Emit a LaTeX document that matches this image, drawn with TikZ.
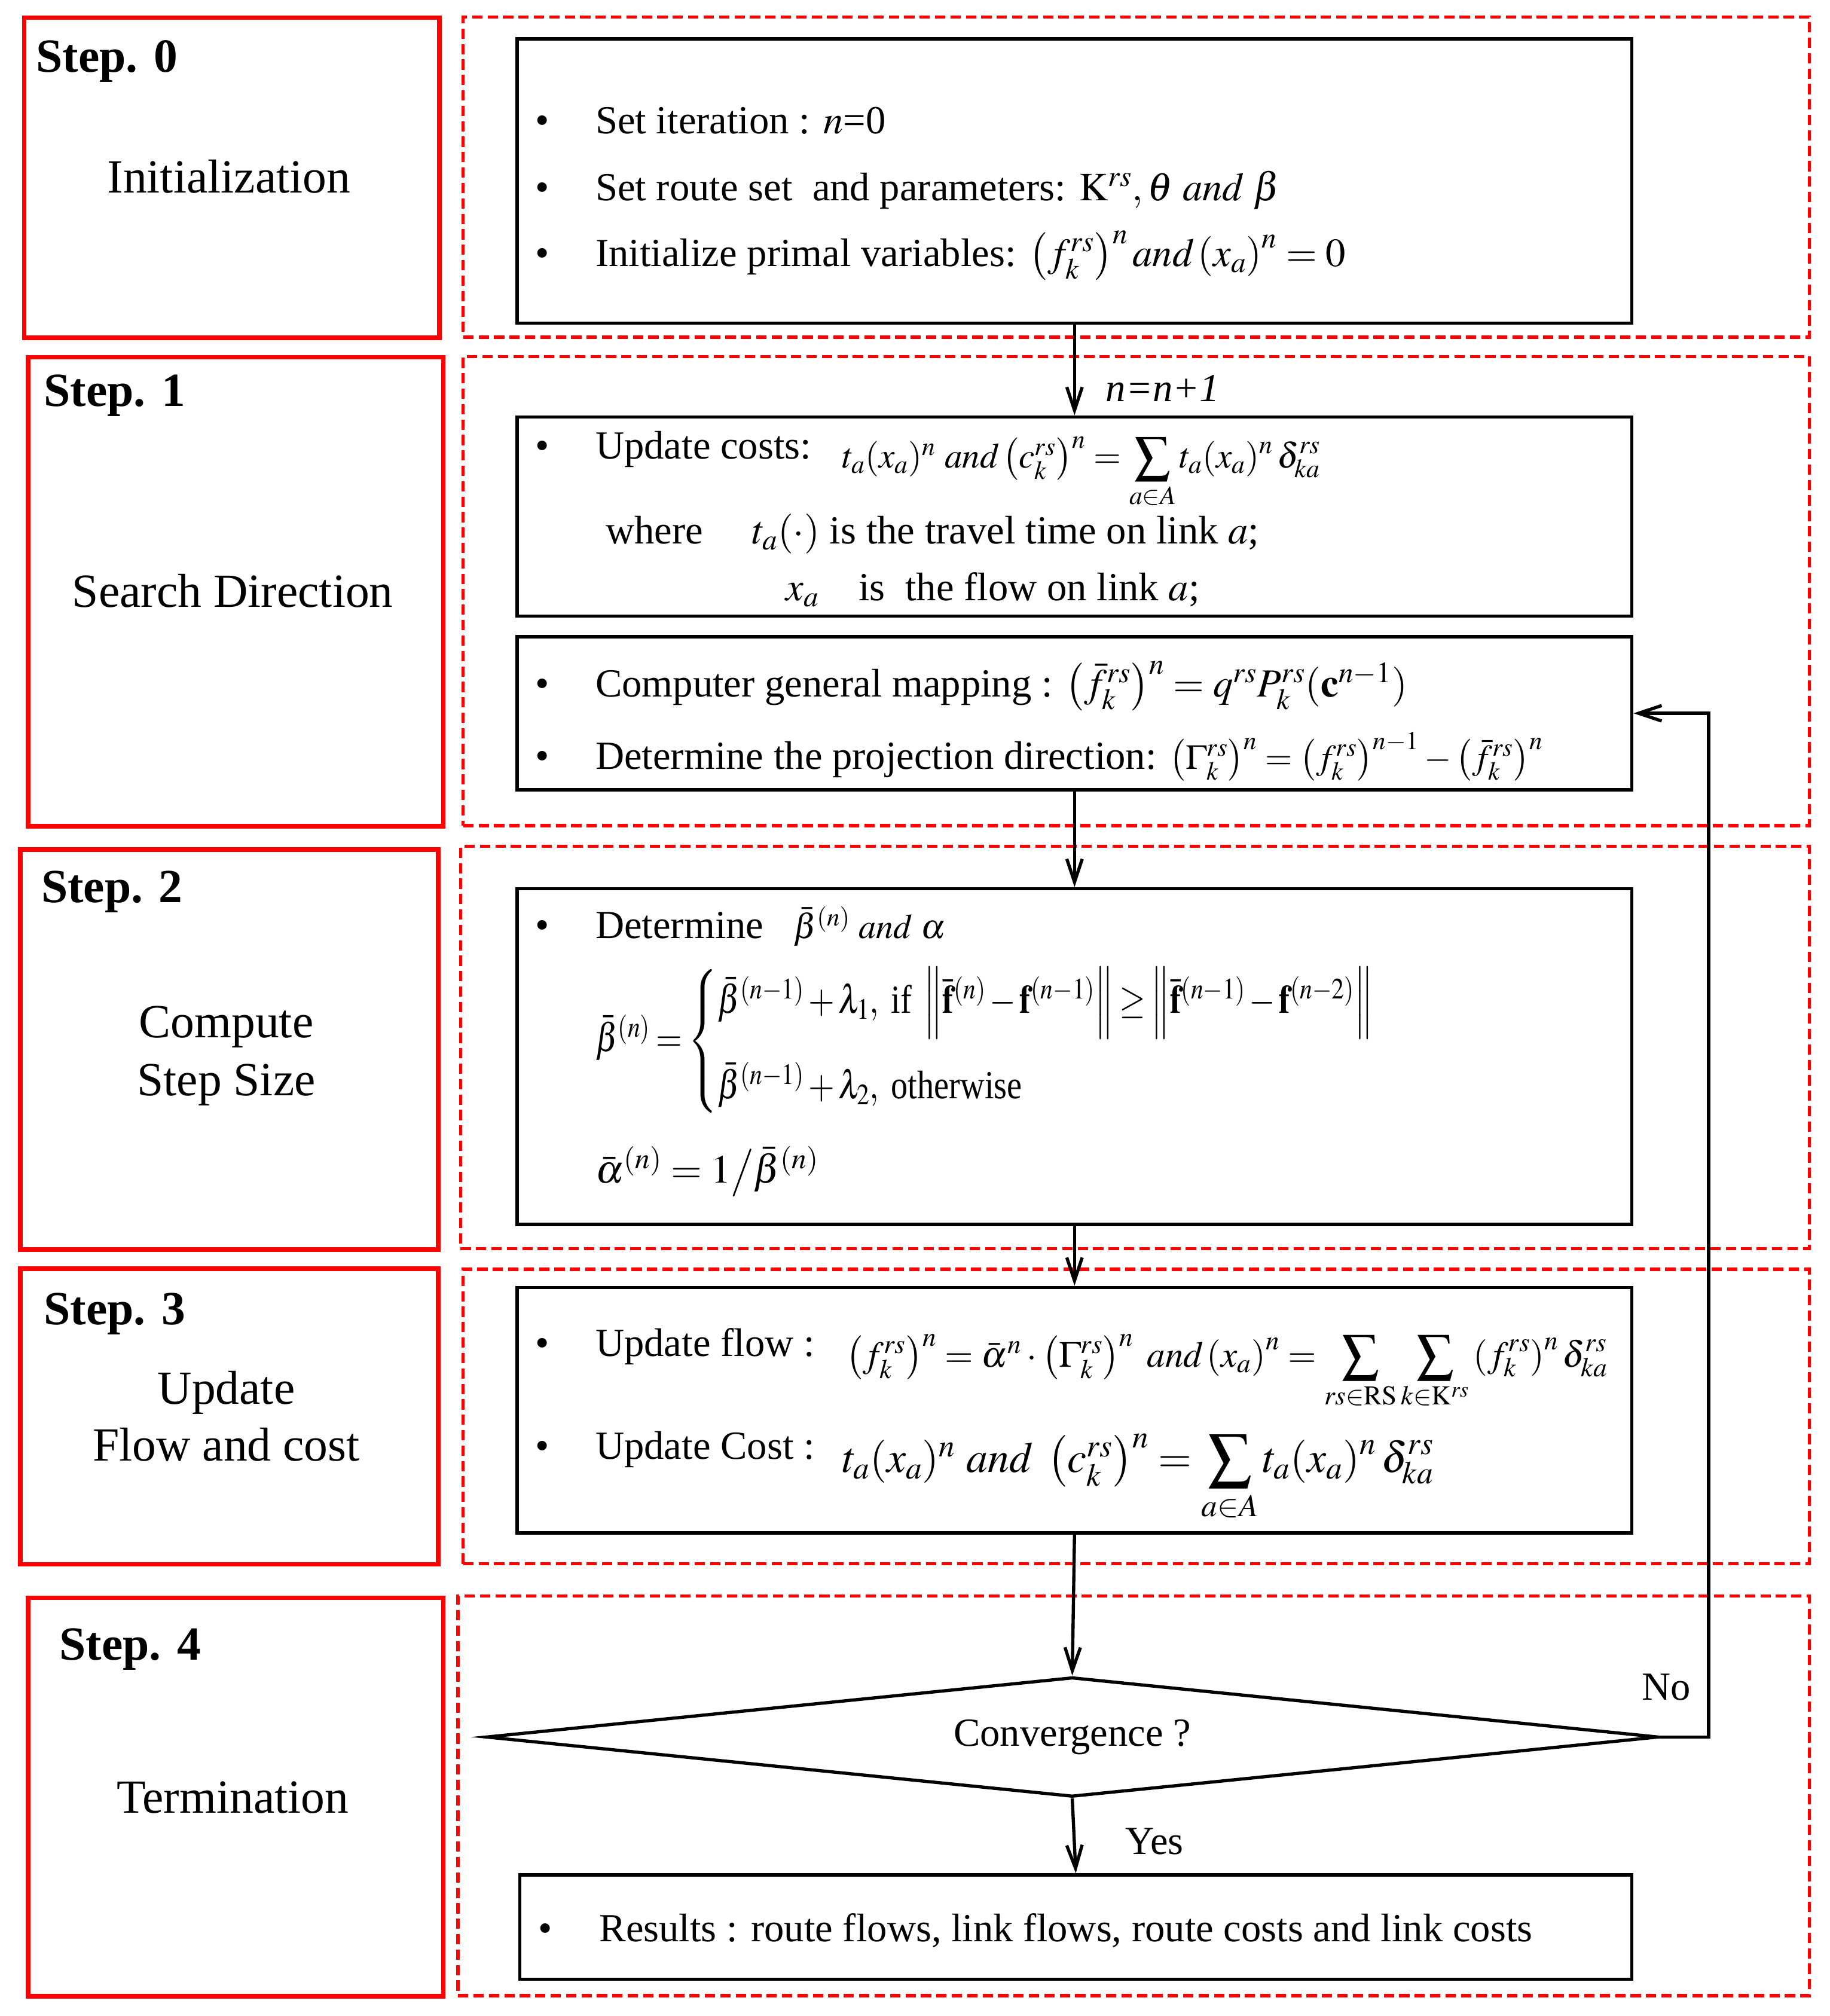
\documentclass[tikz,border=0pt]{standalone}
\usepackage{amsmath}
\usepackage{graphicx}
\usepackage{mathptmx}
\usepackage{fontspec}
\setmainfont{Liberation Serif}
\usetikzlibrary{shapes.geometric,arrows.meta}

\tikzset{
 stepbox/.style={draw=red, line width=3.5pt, anchor=north west, inner sep=0},
 dashbox/.style={draw=red, line width=2.5pt, dash pattern=on 8pt off 4pt, anchor=north west, inner sep=0},
 ibox/.style={draw=black, line width=2.5pt, anchor=north west, inner sep=0},
 steptitle/.style={anchor=base west, font=\fontsize{37}{44}\bfseries\selectfont, inner sep=0},
 stepname/.style={anchor=base, font=\fontsize{37}{44}\selectfont, inner sep=0, align=center},
 body/.style={anchor=base west, font=\fontsize{31}{37}\selectfont, inner sep=0},
 bul/.style={anchor=base, font=\fontsize{31}{37}\selectfont, inner sep=0},
 lbl/.style={font=\fontsize{31}{37}\selectfont, inner sep=0},
 flow/.style={line width=2.5pt, -{Straight Barb[length=18pt,width=12pt,line width=2.5pt]}},
}

\begin{document}
\begin{tikzpicture}[x=1pt,y=-1pt]
\useasboundingbox (0,0) rectangle (1423,1568);

% left step boxes
\node[stepbox, minimum width=323pt, minimum height=249pt] (s0) at (17,12) {};
\node[stepbox, minimum width=323pt, minimum height=365pt] (s1) at (20,276) {};
\node[stepbox, minimum width=325pt, minimum height=311pt] (s2) at (14,659) {};
\node[stepbox, minimum width=325pt, minimum height=230pt] (s3) at (14,985) {};
\node[stepbox, minimum width=323pt, minimum height=310pt] (s4) at (20,1241) {};

\node[steptitle] (t0) at (28,56) {Step. 0};
\node[steptitle] (t1) at (34,316) {Step. 1};
\node[steptitle] (t2) at (32,702) {Step. 2};
\node[steptitle] (t3) at (34,1030) {Step. 3};
\node[steptitle] (t4) at (46,1291) {Step. 4};

\node[stepname] (n0) at (178,150) {Initialization};
\node[stepname] (n1) at (181,472) {Search Direction};
\node[stepname] (n2a) at (176,807) {Compute};
\node[stepname] (n2b) at (176,852) {Step Size};
\node[stepname] (n3a) at (176,1092) {Update};
\node[stepname] (n3b) at (176,1136) {Flow and cost};
\node[stepname] (n4) at (181,1410) {Termination};

% dashed group boxes
\node[dashbox, minimum width=1047pt, minimum height=249pt] (d0) at (359,12) {};
\node[dashbox, minimum width=1047pt, minimum height=365pt] (d1) at (359,276) {};
\node[dashbox, minimum width=1049pt, minimum height=313pt] (d2) at (357,657) {};
\node[dashbox, minimum width=1047pt, minimum height=229pt] (d3) at (359,986) {};
\node[dashbox, minimum width=1051pt, minimum height=311pt] (d4) at (355,1240) {};

% inner boxes
\node[ibox, minimum width=867pt, minimum height=221pt] (b0) at (401,29) {};
\node[ibox, minimum width=867pt, minimum height=155pt] (b1a) at (401,323) {};
\node[ibox, minimum width=867pt, minimum height=119pt] (b1b) at (401,494) {};
\node[ibox, minimum width=867pt, minimum height=261pt] (b2) at (401,690) {};
\node[ibox, minimum width=867pt, minimum height=191pt] (b3) at (401,1000) {};
\node[ibox, minimum width=865pt, minimum height=81pt] (res) at (403,1457) {};
\node[diamond, draw, line width=2.5pt, minimum width=912pt, minimum height=93pt, aspect=9.8, inner sep=0, lbl] (dia) at (834,1351) {Convergence ?};

% box 0 text
\node[bul] (u01) at (422,104) {•};
\node[body] (x01) at (463,104) {Set iteration : $n$=0};
\node[bul] (u02) at (422,156) {•};
\node[body] (x02) at (463,156) {Set route set\ \ and parameters: $\mathrm{K}^{rs},\theta\ \mathit{and}\ \beta$};
\node[bul] (u03) at (422,207) {•};
\node[body] (x03) at (463,207) {Initialize primal variables: $\left(f_k^{rs}\right)^{n} \mathit{and} \left(x_a\right)^{n} = 0$};

% box 1a text
\node[bul] (u11) at (422,357) {•};
\node[body] (x11) at (463,357) {Update costs:};
\node[body, font=\fontsize{24}{28}\selectfont] (x12) at (655,364) {\resizebox{372pt}{!}{$t_a(x_a)^n\ \mathit{and}\left(c_k^{rs}\right)^n = \displaystyle\sum_{a\in A} t_a(x_a)^n\,\delta_{ka}^{rs}$}};
\node[body] (x13) at (471,423) {where};
\node[body] (x14) at (585,423) {$t_a(\cdot)$ is the travel time on link $a$;};
\node[body] (x15) at (611,467) {$x_a$\quad is\ \ the flow on link $a$;};

% box 1b text
\node[bul] (u16) at (422,542) {•};
\node[body] (x16) at (463,542) {Computer general mapping : $\left(\bar f_k^{rs}\right)^n = q^{rs}P_k^{rs}(\mathbf{c}^{n-1})$};
\node[bul] (u17) at (422,598) {•};
\node[body] (x17) at (463,598) {Determine the projection direction: \resizebox{290pt}{!}{$\left(\Gamma_k^{rs}\right)^n = \left(f_k^{rs}\right)^{n-1} - \left(\bar f_k^{rs}\right)^n$}};

% box 2 text
\node[bul] (u21) at (422,730) {•};
\node[body] (x21) at (463,730) {Determine\ \ \ {\fontsize{27}{32}\selectfont$\bar\beta^{(n)}\ \mathit{and}\ \alpha$}};
\node[anchor=west, inner sep=0, font=\fontsize{31}{37}\selectfont] (x22) at (463,810) {\resizebox{632pt}{\height}{\medmuskip=2mu\thickmuskip=3mu$\bar\beta^{(n)} = \begin{cases} \bar\beta^{(n-1)}+\lambda_1,\ \text{if}\ \left\|\bar{\mathbf f}^{(n)} - \mathbf f^{(n-1)}\right\| \ge \left\|\bar{\mathbf f}^{(n-1)} - \mathbf f^{(n-2)}\right\| \\[22pt] \bar\beta^{(n-1)}+\lambda_2,\ \text{otherwise}\end{cases}$}};
\node[body] (x23) at (463,920) {$\bar\alpha^{(n)} = 1\big/\bar\beta^{(n)}$};

% box 3 text
\node[bul] (u31) at (422,1055) {•};
\node[body] (x31) at (463,1055) {Update flow :};
\node[body] (x31m) at (658,1063) {\resizebox{592pt}{!}{$\left(f_k^{rs}\right)^n = \bar\alpha^n\cdot\left(\Gamma_k^{rs}\right)^n\ \mathit{and}\left(x_a\right)^n = \displaystyle\sum_{rs\in\mathrm{RS}}\sum_{k\in\mathrm{K}^{rs}}\left(f_k^{rs}\right)^n\delta_{ka}^{rs}$}};
\node[bul] (u32) at (422,1135) {•};
\node[body] (x32) at (463,1135) {Update Cost :};
\node[body] (x32m) at (655,1145) {\resizebox{460pt}{!}{$t_a(x_a)^n\ \mathit{and}\ \left(c_k^{rs}\right)^n = \displaystyle\sum_{a\in A} t_a(x_a)^n\,\delta_{ka}^{rs}$}};

% results
\node[bul] (u41) at (424,1510) {•};
\node[body] (x41) at (466,1510) {Results : route flows, link flows, route costs and link costs};

% connectors
\draw[flow] (b0.south) -- (b1a.north);
\node[lbl, anchor=west] (inc) at (860,302) {\textit{n=n+1}};
\draw[flow] (b1b.south) -- (b2.north);
\draw[flow] (b2.south) -- (b3.north);
\draw[flow] (b3.south) -- (dia.north);
\draw[flow] (dia.south) -- (res.north);
\node[lbl] (yes) at (898,1432) {Yes};
\coordinate (fb) at (1329,1351);
\draw[flow] (dia.east) -- (fb) |- (b1b.east);
\node[lbl] (no) at (1296,1312) {No};
\end{tikzpicture}
\end{document}
